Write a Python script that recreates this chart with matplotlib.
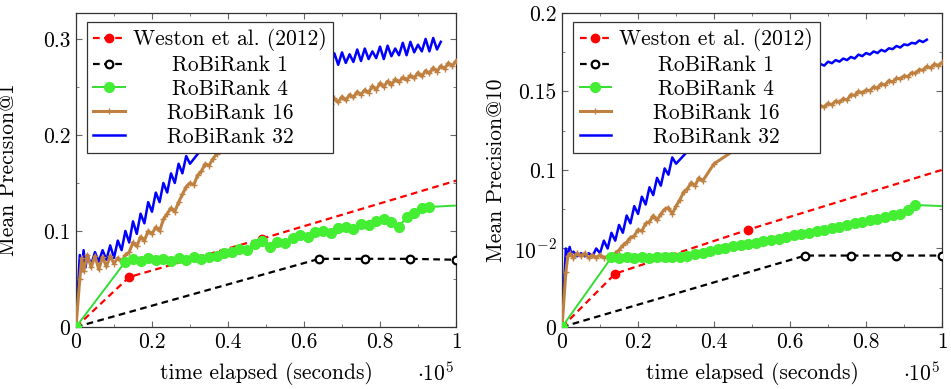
import matplotlib
matplotlib.use('Agg')
import matplotlib.pyplot as plt
import numpy as np

plt.rcParams['font.family'] = 'serif'
plt.rcParams['font.serif'] = ['cmr10', 'DejaVu Serif']
plt.rcParams['mathtext.fontset'] = 'cm'
plt.rcParams['axes.unicode_minus'] = False
plt.rcParams['font.size'] = 15.5

# ---- data (time in seconds) ----
weston_t = [0, 14000, 49000, 120000]
weston_p1 = [0, 0.052, 0.092, 0.176]
weston_p10 = [0, 0.034, 0.062, 0.115]

rb1_t = [0, 64000, 76000, 88000, 100000]
rb1_p1 = [0, 0.071, 0.071, 0.071, 0.070]
rb1_p10 = [0, 0.0455, 0.0455, 0.0455, 0.0455]

rb4_t = [0, 13000, 15000, 17000, 19000, 21000, 23000, 25000, 27000, 29000, 31000,
         33000, 35000, 37000, 39000, 41000, 43000, 45000, 47000, 49000, 51000,
         53000, 55000, 57000, 59000, 61000, 63000, 65000, 67000, 69000, 71000,
         73000, 75000, 77000, 79000, 81000, 83000, 85000, 87000, 89000, 91000,
         93000, 105000]
rb4_p1 = [0, 0.068, 0.071, 0.069, 0.072, 0.070, 0.071, 0.069, 0.072, 0.070, 0.073,
          0.071, 0.073, 0.074, 0.077, 0.078, 0.081, 0.080, 0.086, 0.090, 0.083,
          0.089, 0.087, 0.093, 0.096, 0.094, 0.099, 0.100, 0.098, 0.103, 0.104,
          0.102, 0.107, 0.106, 0.110, 0.112, 0.109, 0.104, 0.115, 0.119, 0.124,
          0.125, 0.1275]
rb4_p10 = [0, 0.0443, 0.0441, 0.0443, 0.0442, 0.0443, 0.0442, 0.0444, 0.0444, 0.0446, 0.0449,
           0.0455, 0.0462, 0.0472, 0.0485, 0.0497, 0.0505, 0.0513, 0.0520, 0.0530, 0.0537,
           0.0546, 0.0554, 0.0563, 0.0572, 0.0584, 0.0592, 0.0601, 0.0611, 0.0620, 0.0631,
           0.0640, 0.0649, 0.0660, 0.0671, 0.0681, 0.0690, 0.0700, 0.0711, 0.0720, 0.0742,
           0.0777, 0.0765]

rb16_t = [0, 1000, 1500, 2000, 3000, 4000, 5000, 6000, 7000, 8000, 9000, 10000,
          11000, 12000, 13000, 14000, 15000, 16000, 17000, 18000, 19000, 20000,
          21000, 22000, 23000, 24000, 25000, 26000, 27000, 28000, 29000, 30000,
          31000, 32000, 33000, 34000, 35000, 36000, 37000, 40000, 50000, 60000,
          66000, 67000, 68000, 69000, 70000, 71000, 72000, 73000, 74000, 75000,
          76000, 77000, 78000, 79000, 80000, 81000, 82000, 83000, 84000, 85000,
          86000, 87000, 88000, 89000, 90000, 91000, 92000, 93000, 94000, 95000,
          96000, 97000, 98000, 99000, 100000]
rb16_p1 = [0, 0.050, 0.072, 0.058, 0.075, 0.062, 0.074, 0.060, 0.073, 0.063, 0.074, 0.066,
           0.072, 0.068, 0.075, 0.078, 0.088, 0.084, 0.094, 0.090, 0.100, 0.097,
           0.104, 0.100, 0.112, 0.118, 0.124, 0.120, 0.130, 0.138, 0.146, 0.150,
           0.148, 0.158, 0.162, 0.170, 0.168, 0.175, 0.180, 0.190, 0.210, 0.225,
           0.236, 0.232, 0.238, 0.234, 0.240, 0.236, 0.242, 0.239, 0.245, 0.242,
           0.247, 0.244, 0.251, 0.247, 0.254, 0.250, 0.256, 0.252, 0.258, 0.255,
           0.260, 0.257, 0.262, 0.259, 0.265, 0.261, 0.267, 0.264, 0.270, 0.266,
           0.272, 0.269, 0.275, 0.272, 0.277]
rb16_p10 = [0, 0.035, 0.045, 0.047, 0.044, 0.047, 0.045, 0.047, 0.044, 0.046, 0.044, 0.046,
            0.044, 0.045, 0.044, 0.047, 0.049, 0.052, 0.054, 0.057, 0.058, 0.062,
            0.061, 0.066, 0.067, 0.071, 0.068, 0.072, 0.075, 0.076, 0.072, 0.077,
            0.081, 0.086, 0.088, 0.092, 0.090, 0.095, 0.093, 0.104, 0.120, 0.133,
            0.1400, 0.1385, 0.1410, 0.1400, 0.1425, 0.1415, 0.1440, 0.1430, 0.1455, 0.1445,
            0.1480, 0.1475, 0.1500, 0.1490, 0.1510, 0.1505, 0.1530, 0.1520, 0.1550, 0.1540,
            0.1570, 0.1560, 0.1585, 0.1580, 0.1600, 0.1595, 0.1620, 0.1615, 0.1640, 0.1635,
            0.1660, 0.1650, 0.1675, 0.1665, 0.1685]

rb32_t = [0, 1000, 1500, 2000, 2500, 3000, 4000, 5000, 6000, 7000, 8000, 9000,
          10000, 11000, 12000, 13000, 14000, 15000, 16000, 17000, 18000, 19000,
          20000, 21000, 22000, 23000, 24000, 25000, 26000, 27000, 28000, 29000,
          30000, 40000, 50000, 60000,
          66000, 67000, 68000, 69000, 70000, 71000, 72000, 73000, 74000, 75000,
          76000, 77000, 78000, 79000, 80000, 81000, 82000, 83000, 84000, 85000,
          86000, 87000, 88000, 89000, 90000, 91000, 92000, 93000, 94000, 95000, 96000]
rb32_p1 = [0, 0.075, 0.058, 0.080, 0.062, 0.075, 0.065, 0.078, 0.068, 0.080, 0.070, 0.085,
           0.072, 0.090, 0.080, 0.100, 0.088, 0.110, 0.097, 0.118, 0.108, 0.130,
           0.120, 0.140, 0.130, 0.150, 0.140, 0.160, 0.150, 0.170, 0.160, 0.178,
           0.170, 0.220, 0.245, 0.265,
           0.283, 0.272, 0.285, 0.273, 0.286, 0.275, 0.284, 0.276, 0.289, 0.277,
           0.290, 0.279, 0.287, 0.280, 0.292, 0.279, 0.293, 0.282, 0.290, 0.283,
           0.296, 0.283, 0.297, 0.286, 0.294, 0.287, 0.300, 0.287, 0.301, 0.289, 0.297]
rb32_p10 = [0, 0.050, 0.045, 0.051, 0.046, 0.048, 0.045, 0.047, 0.045, 0.047, 0.045, 0.050,
            0.047, 0.055, 0.050, 0.060, 0.055, 0.065, 0.060, 0.071, 0.066, 0.077,
            0.072, 0.083, 0.078, 0.089, 0.084, 0.095, 0.090, 0.101, 0.097, 0.108,
            0.104, 0.130, 0.148, 0.160,
            0.1665, 0.1655, 0.1675, 0.1665, 0.1690, 0.1680, 0.1700, 0.1690, 0.1710, 0.1700,
            0.1720, 0.1710, 0.1735, 0.1725, 0.1745, 0.1735, 0.1755, 0.1745, 0.1765, 0.1755,
            0.1775, 0.1770, 0.1790, 0.1780, 0.1800, 0.1795, 0.1810, 0.1805, 0.1825, 0.1815, 0.1830]

labels = ['Weston et al. (2012)', 'RoBiRank 1', 'RoBiRank 4', 'RoBiRank 16', 'RoBiRank 32']
brown = '#bf8040'

fig = plt.figure(figsize=(9.51, 3.89), dpi=100)
ax1 = fig.add_axes([0.0799, 0.1594, 0.3996, 0.8072])
ax2 = fig.add_axes([0.591, 0.1594, 0.3996, 0.8072])


def draw_panel(ax, weston, rb1, rb4, rb16, rb32, ylabel):
    sc = lambda t: np.array(t) / 1e5
    ax.plot(sc(weston_t), weston, color='red', ls='--', lw=1.6, dashes=(3, 2), marker='o', ms=6,
            mec='red', mfc='red', label=labels[0], zorder=4)
    ax.plot(sc(rb1_t), rb1, color='black', ls='--', lw=1.6, dashes=(3, 2), marker='o', ms=5.5,
            mec='black', mfc='white', mew=1.6, label=labels[1], zorder=4)
    ax.plot(sc(rb4_t), rb4, color='#33dd33', ls='-', lw=1.4, marker='o', ms=7,
            mec='#44ee33', mfc='#44ee33', label=labels[2], zorder=5)
    ax.plot(sc(rb16_t), rb16, color=brown, ls='-', lw=2.2, marker='+', ms=4,
            mew=1.0, label=labels[3], zorder=3)
    ax.plot(sc(rb32_t), rb32, color='blue', ls='-', lw=1.8, label=labels[4], zorder=2)
    ax.set_xlim(0, 1)
    ax.set_xticks([0, 0.2, 0.4, 0.6, 0.8, 1.0])
    ax.set_xticklabels(['0', '0.2', '0.4', '0.6', '0.8', '1'])
    ax.set_xticks(np.arange(0.1, 1.0, 0.2), minor=True)
    ax.tick_params(which='both', direction='in', top=True, right=True, color='#666666')
    ax.tick_params(which='major', length=4.5, pad=4)
    ax.tick_params(which='minor', length=2.5)
    for s in ax.spines.values():
        s.set_linewidth(0.9)
        s.set_color('#333333')
    ax.set_ylabel(ylabel)
    ax.set_xlabel('time elapsed (seconds)')
    ax.xaxis.set_label_coords(0.5, -0.11)
    ax.text(0.995, -0.11, r'$\cdot 10^{5}$', transform=ax.transAxes, ha='right', va='top')
    leg = ax.legend(loc='upper left', bbox_to_anchor=(0.029, 0.972), borderaxespad=0,
                    fancybox=False, framealpha=1, edgecolor='#333333',
                    handlelength=1.45, labelspacing=0.2, borderpad=0.3,
                    handletextpad=0.4)
    leg.get_frame().set_linewidth(0.9)
    return leg


leg1 = draw_panel(ax1, weston_p1, rb1_p1, rb4_p1, rb16_p1, rb32_p1, 'Mean Precision@1')
ax1.set_ylim(0, 0.327)
ax1.set_yticks([0, 0.1, 0.2, 0.3])
ax1.set_yticklabels(['0', '0.1', '0.2', '0.3'])
ax1.set_yticks([0.05, 0.15, 0.25], minor=True)
ax1.yaxis.set_label_coords(-0.153, 0.5)

leg2 = draw_panel(ax2, weston_p10, rb1_p10, rb4_p10, rb16_p10, rb32_p10, 'Mean Precision@10')
ax2.set_ylim(0, 0.2)
ax2.set_yticks([0, 0.05, 0.1, 0.15, 0.2])
ax2.set_yticklabels(['0', r'$10^{-2}$', '0.1', '0.15', '0.2'])
ax2.set_yticks([0.025, 0.075, 0.125, 0.175], minor=True)
ax2.yaxis.set_label_coords(-0.147, 0.5)

# centre the legend labels like the original
fig.canvas.draw()
for leg in (leg1, leg2):
    texts = leg.get_texts()
    widths = [t.get_window_extent().width for t in texts]
    wmax = max(widths)
    for t, w in zip(texts, widths):
        t.set_position(((wmax - w) / 2, 0))

fig.savefig('out.png', dpi=100)
